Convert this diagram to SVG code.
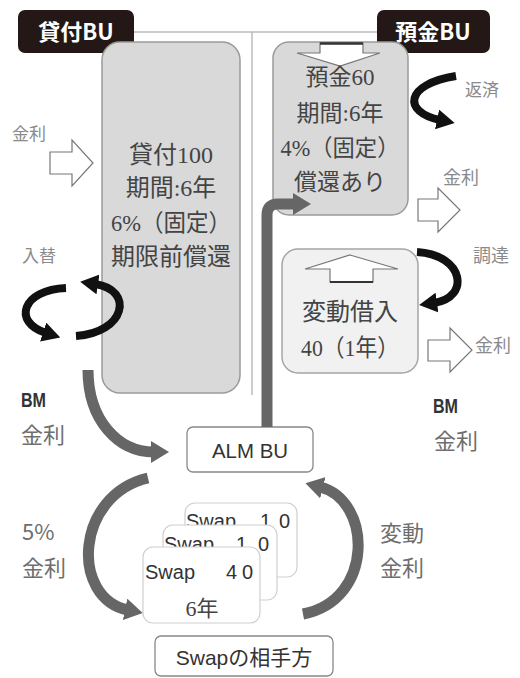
<svg xmlns="http://www.w3.org/2000/svg" width="520" height="678" viewBox="0 0 520 678">
<style>
.bx{font-family:"Liberation Serif","Noto Sans CJK JP",serif;fill:#444;text-anchor:middle}
.lb{font-family:"Noto Sans CJK JP",sans-serif;fill:#8a8a8a}
.lb2{font-family:"Noto Sans CJK JP",sans-serif;fill:#6e6e6e}
.bm{font-family:"Liberation Sans","Noto Sans CJK JP",sans-serif;font-weight:bold;fill:#333}
.tag{font-family:"Noto Sans CJK JP",sans-serif;font-weight:bold;fill:#fff;text-anchor:middle;font-size:22px}
.sw{font-family:"Liberation Sans",sans-serif;fill:#333;font-size:20px}
.card{fill:#fff;stroke:#cfcfcf;stroke-width:1.2}
.blk{fill:none;stroke:#111;stroke-width:8}
.gry{fill:none;stroke:#666;stroke-width:11}
.wa{fill:#fff;stroke:#777;stroke-width:1.2}
</style>
<defs>
<marker id="bh" markerWidth="18" markerHeight="20" refX="3" refY="10" orient="auto" markerUnits="userSpaceOnUse"><path d="M0,0 L18,10 L0,20 z" fill="#111"/></marker>
<marker id="gh" markerWidth="18" markerHeight="22" refX="3" refY="11" orient="auto" markerUnits="userSpaceOnUse"><path d="M0,0 L18,11 L0,22 z" fill="#666"/></marker>
</defs>

<g id="dividers" stroke="#bbb" stroke-width="1.5" fill="none">
<path d="M134 32 H377"/>
<path d="M252 32 V395"/>
</g>

<g id="tag-loan"><rect x="18" y="10" width="116" height="43" rx="7" fill="#231815"/><text class="tag" x="76" y="40">貸付BU</text></g>
<g id="tag-deposit"><rect x="377" y="10" width="113" height="43" rx="7" fill="#231815"/><text class="tag" x="433" y="40">預金BU</text></g>

<g id="loan">
<rect x="102" y="42" width="138" height="351" rx="18" fill="#d9d9d9" stroke="#9a9a9a" stroke-width="1.5"/>
<text class="bx" font-size="24" x="171" y="163">貸付100</text>
<text class="bx" font-size="24" x="171" y="196">期間:6年</text>
<text class="bx" font-size="24" x="171" y="231" textLength="120" lengthAdjust="spacingAndGlyphs">6%（固定）</text>
<text class="bx" font-size="24" x="171" y="265">期限前償還</text>
</g>

<g id="deposit">
<rect x="273" y="42" width="135" height="173" rx="16" fill="#d9d9d9" stroke="#9a9a9a" stroke-width="1.5"/>
<polygon class="wa" points="320,43 363,43 363,53 380,53 340,66 297,53 320,53"/>
<path d="M320 43.5 H363" stroke="#333" stroke-width="2.5"/>
<text class="bx" font-size="23" x="340" y="85">預金60</text>
<text class="bx" font-size="23" x="340" y="121">期間:6年</text>
<text class="bx" font-size="23" x="340" y="156" textLength="119" lengthAdjust="spacingAndGlyphs">4%（固定）</text>
<text class="bx" font-size="23" x="340" y="190">償還あり</text>
</g>

<g id="variable">
<rect x="282" y="249" width="136" height="124" rx="16" fill="#f1f1f1" stroke="#a5a5a5" stroke-width="1.5"/>
<polygon class="wa" points="350,255 398,269 373,269 373,282 330,282 330,269 305,269"/>
<path d="M330 282 H373" stroke="#333" stroke-width="2"/>
<text class="bx" font-size="24" x="350" y="320">変動借入</text>
<text class="bx" font-size="24" x="350" y="356" textLength="98" lengthAdjust="spacingAndGlyphs">40（1年）</text>
</g>

<g id="alm">
<rect x="187" y="427" width="126" height="45" rx="6" fill="#fff" stroke="#888" stroke-width="1.3"/>
<text x="250" y="458" font-family="Liberation Sans, sans-serif" font-size="21" fill="#333" text-anchor="middle" textLength="76" lengthAdjust="spacingAndGlyphs">ALM BU</text>
</g>

<g id="swaps">
<rect class="card" x="185" y="503" width="112" height="74" rx="10"/>
<text class="sw" x="186" y="528">Swap <tspan x="260">1</tspan><tspan x="279">0</tspan></text>
<rect class="card" x="163" y="525" width="114" height="75" rx="10"/>
<text class="sw" x="164" y="551">Swap <tspan x="236">1</tspan><tspan x="258">0</tspan></text>
<rect class="card" x="143" y="547" width="117" height="76" rx="10"/>
<text class="sw" x="145" y="579">Swap <tspan x="226">4</tspan><tspan x="242">0</tspan></text>
<text class="bx" font-size="22" x="202" y="616">6年</text>
</g>

<g id="counterparty">
<rect x="155" y="636" width="178" height="40" rx="6" fill="#fff" stroke="#888" stroke-width="1.3"/>
<text x="244" y="665" font-family="Liberation Sans, Noto Sans CJK JP, sans-serif" font-size="21" fill="#333" text-anchor="middle">Swapの相手方</text>
</g>

<g id="labels">
<text class="lb" x="12" y="140" font-size="17">金利</text>
<text class="lb" x="22" y="262" font-size="17">入替</text>
<text class="bm" x="21" y="407" font-size="21" textLength="25" lengthAdjust="spacingAndGlyphs">BM</text>
<text class="lb2" x="21" y="443" font-size="22">金利</text>
<text class="lb2" x="22" y="540" font-size="22">5%</text>
<text class="lb2" x="22" y="576" font-size="22">金利</text>
<text class="lb2" x="380" y="541" font-size="22">変動</text>
<text class="lb2" x="380" y="576" font-size="22">金利</text>
<text class="bm" x="433" y="413" font-size="21" textLength="25" lengthAdjust="spacingAndGlyphs">BM</text>
<text class="lb2" x="434" y="449" font-size="22">金利</text>
<text class="lb" x="465" y="96" font-size="17">返済</text>
<text class="lb" x="443" y="184" font-size="18">金利</text>
<text class="lb" x="473" y="262" font-size="18">調達</text>
<text class="lb" x="475" y="352" font-size="18">金利</text>
</g>

<g id="connectors">
<polygon class="wa" points="50,152 72,152 72,140 93,163 72,186 72,174 50,174"/>
<polygon class="wa" points="418,199 438,199 438,188 460,210 438,232 438,221 418,221"/>
<polygon class="wa" points="428,340 450,340 450,328 472,350 450,372 450,361 428,361"/>
<path class="blk" d="M66 288 C22 290 12 322 46 333" marker-end="url(#bh)"/>
<path class="blk" d="M76 336 C125 333 135 290 95 284" marker-end="url(#bh)"/>
<path class="blk" d="M456 76 C405 84 402 112 440 120" marker-end="url(#bh)"/>
<path class="blk" d="M417 252 C465 255 470 298 434 303" marker-end="url(#bh)"/>
<path class="gry" d="M88 370 C88 420 118 452 154 452" marker-end="url(#gh)"/>
<path class="gry" d="M267 427 V215 Q267 204 278 204 H296" marker-end="url(#gh)"/>
<path class="gry" d="M148 478 C75 495 70 598 128 610" marker-end="url(#gh)"/>
<path class="gry" d="M303 614 C375 600 372 500 320 487" marker-end="url(#gh)"/>
</g>
</svg>
